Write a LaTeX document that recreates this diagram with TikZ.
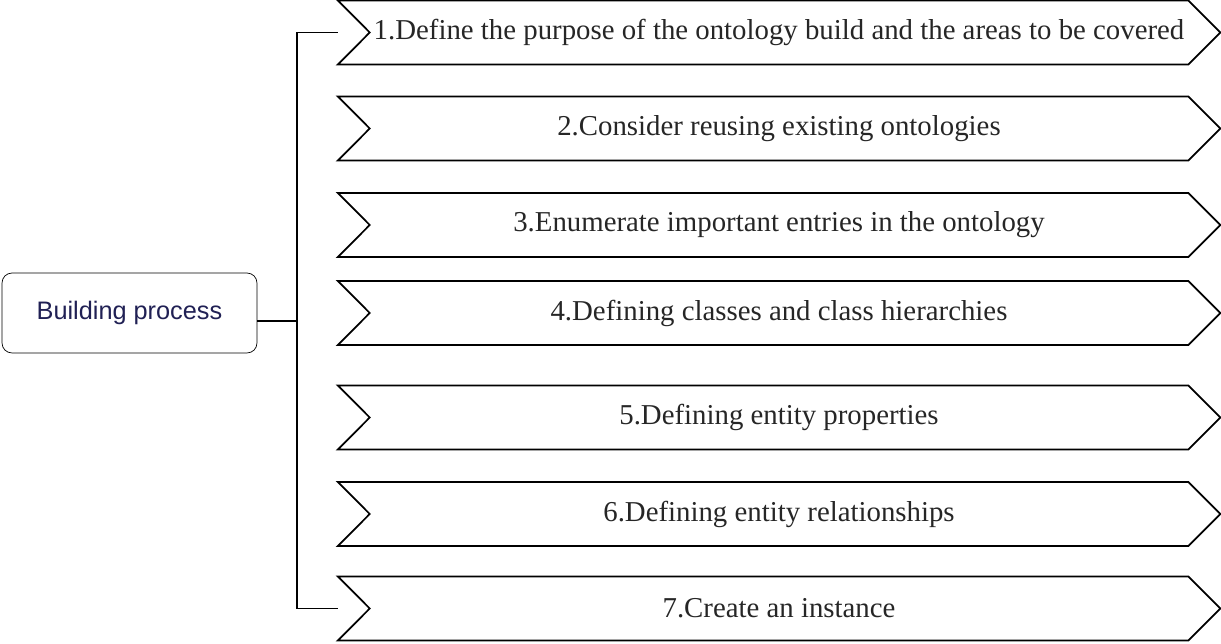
\documentclass[tikz,border=0pt]{standalone}
\usepackage{fontspec}
\setmainfont{Liberation Serif}
\newfontfamily\labelsans{Liberation Sans}
\usetikzlibrary{calc}
\definecolor{navytext}{RGB}{32,32,84}

\begin{document}
\begin{tikzpicture}[
    x=0.02cm, y=-0.02cm,
    every node/.style={font=\fontsize{16.4}{20}\selectfont},
    stage/.style={minimum width=17.64cm, minimum height=1.27cm, inner sep=0pt, text=black!85},
    root/.style={draw, rounded corners=0.2cm, minimum width=5.1cm, minimum height=1.6cm, font=\labelsans\fontsize{14.4}{17}\selectfont, text=navytext},
    chev/.style={line width=1pt},
    link/.style={line width=0.7pt}
]
\useasboundingbox (0,0) rectangle (1221,644);

\node[root] (bp) at (129.5,313) {Building process};

\node[stage] (s1) at (779,32.5) {1.Define the purpose of the ontology build and the areas to be covered};
\node[stage] (s2) at (779,128.5) {2.Consider reusing existing ontologies};
\node[stage] (s3) at (779,225) {3.Enumerate important entries in the ontology};
\node[stage] (s4) at (779,313) {4.Defining classes and class hierarchies};
\node[stage] (s5) at (779,417.5) {5.Defining entity properties};
\node[stage] (s6) at (779,514) {6.Defining entity relationships};
\node[stage] (s7) at (779,608.5) {7.Create an instance};

\foreach \s in {s1,s2,s3,s4,s5,s6,s7}
    \draw[chev] (\s.north west) -- ($(\s.north east)+(-32,0)$) -- (\s.east) -- ($(\s.south east)+(-32,0)$) -- (\s.south west) -- ($(\s.west)+(32,0)$) -- cycle;

\coordinate (trunk) at (297,321);
\draw[link] (bp.east |- trunk) -- (trunk);
\draw[link] (s1.north west |- s1.center) -| (trunk) |- (s7.north west |- s7.center);
\end{tikzpicture}
\end{document}
